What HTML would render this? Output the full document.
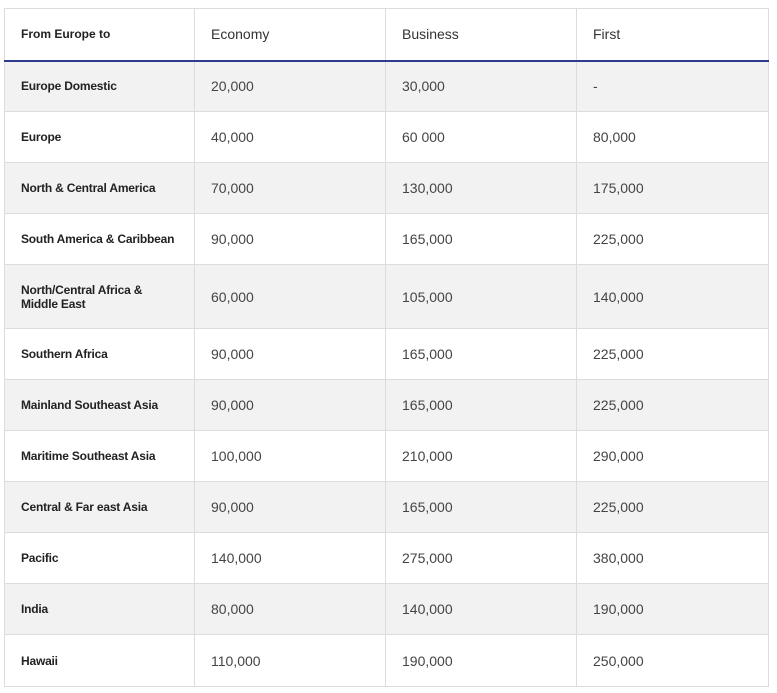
<!DOCTYPE html>
<html><head><style>
body{margin:0;background:#fff;width:777px;height:693px;overflow:hidden;font-family:"Liberation Sans",sans-serif;}
table{position:absolute;left:4px;top:8px;border-collapse:collapse;table-layout:fixed;width:764px;}
td,th{border:1px solid #dcdcdc;padding:0 0 0 16px;text-align:left;vertical-align:middle;box-sizing:border-box;}
th{font-weight:normal;font-size:14px;color:#333;height:52px;border-bottom:2px solid #2e3a8c;}
th:first-child{font-weight:bold;font-size:12px;color:#222;}
td{height:51px;font-size:14px;color:#444;}
td:first-child{font-weight:bold;font-size:12px;color:#222;letter-spacing:-0.2px;}
tr.g td{background:#f2f2f2;}
tr.t td{height:64px;}
tr.l td{height:52px;}
</style></head><body>
<table>
<colgroup><col style="width:190px"><col style="width:191px"><col style="width:191px"><col style="width:192px"></colgroup>
<tr><th>From Europe to</th><th>Economy</th><th>Business</th><th>First</th></tr>
<tr class="g"><td>Europe Domestic</td><td>20,000</td><td>30,000</td><td>-</td></tr>
<tr><td>Europe</td><td>40,000</td><td>60 000</td><td>80,000</td></tr>
<tr class="g"><td>North &amp; Central America</td><td>70,000</td><td>130,000</td><td>175,000</td></tr>
<tr><td>South America &amp; Caribbean</td><td>90,000</td><td>165,000</td><td>225,000</td></tr>
<tr class="g t"><td>North/Central Africa &amp;<br>Middle East</td><td>60,000</td><td>105,000</td><td>140,000</td></tr>
<tr><td>Southern Africa</td><td>90,000</td><td>165,000</td><td>225,000</td></tr>
<tr class="g"><td>Mainland Southeast Asia</td><td>90,000</td><td>165,000</td><td>225,000</td></tr>
<tr><td>Maritime Southeast Asia</td><td>100,000</td><td>210,000</td><td>290,000</td></tr>
<tr class="g"><td>Central &amp; Far east Asia</td><td>90,000</td><td>165,000</td><td>225,000</td></tr>
<tr><td>Pacific</td><td>140,000</td><td>275,000</td><td>380,000</td></tr>
<tr class="g"><td>India</td><td>80,000</td><td>140,000</td><td>190,000</td></tr>
<tr class="l"><td>Hawaii</td><td>110,000</td><td>190,000</td><td>250,000</td></tr>
</table>
</body></html>
